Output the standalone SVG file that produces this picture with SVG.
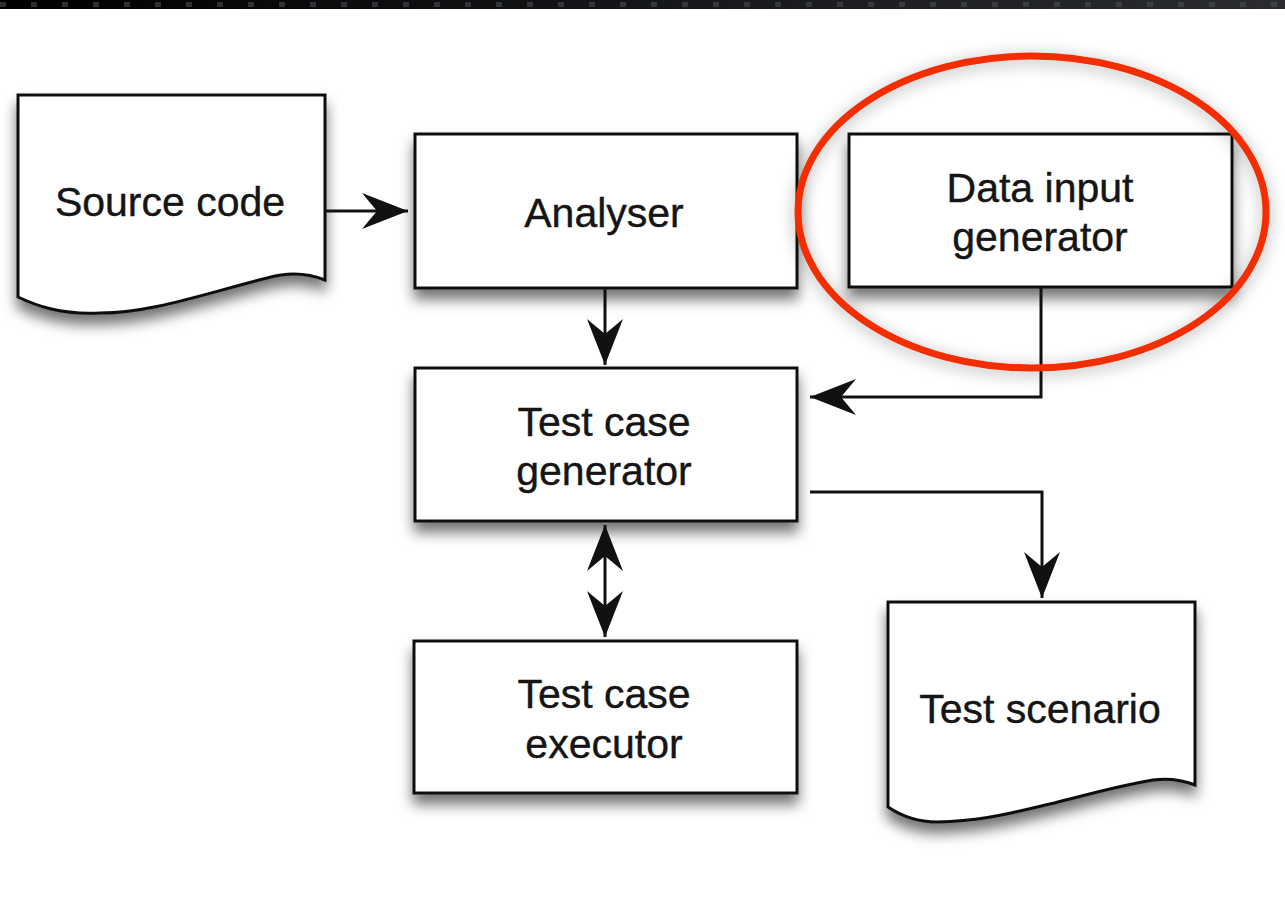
<svg xmlns="http://www.w3.org/2000/svg" width="1285" height="898" viewBox="0 0 1285 898">
  <style>
    .box { fill: #ffffff; stroke: #111111; stroke-width: 3; }
    .lbl { font-family: "Liberation Sans", Arial, Helvetica, sans-serif; font-size: 41px; fill: #151515; text-anchor: middle; stroke: #151515; stroke-width: 0.4; }
    .conn { fill: none; stroke: #111111; stroke-width: 3; }
    .ring { fill: none; stroke: #f22d05; stroke-width: 7; }
  </style>
  <defs>
    <filter id="shadow" x="-20%" y="-20%" width="140%" height="150%">
      <feDropShadow dx="0" dy="10" stdDeviation="7" flood-color="#000000" flood-opacity="0.55"/>
    </filter>
    <filter id="glow" x="-20%" y="-20%" width="140%" height="140%">
      <feDropShadow dx="0" dy="3" stdDeviation="8" flood-color="#000000" flood-opacity="0.35"/>
    </filter>
    <marker id="arrow" markerUnits="userSpaceOnUse" markerWidth="60" markerHeight="44" viewBox="-50 -22 52 44" refX="0" refY="0" orient="auto-start-reverse">
      <path d="M0,0 L-46,-18 L-31,0 L-46,18 Z" fill="#111111"/>
    </marker>
    <linearGradient id="band" x1="0" y1="0" x2="1" y2="0">
      <stop offset="0" stop-color="#000000"/>
      <stop offset="1" stop-color="#2a2c30"/>
    </linearGradient>
  </defs>

  <rect x="0" y="0" width="1285" height="898" fill="#ffffff"/>
  <rect x="0" y="0" width="1285" height="9" fill="url(#band)"/>
  <line x1="0" y1="4.5" x2="1285" y2="4.5" stroke="#4a4d55" stroke-width="5" stroke-dasharray="6 25" opacity="0.6"/>

  <g id="source-code">
    <path class="box" filter="url(#shadow)" d="M18,95 H325 V280 C305,272 285,273 267,278 C200,295 150,313 100,313 C60,315 35,305 18,297 Z"/>
    <text class="lbl" x="170" y="216">Source code</text>
  </g>

  <g id="analyser">
    <rect class="box" filter="url(#shadow)" x="415" y="134" width="382" height="154"/>
    <text class="lbl" x="604" y="227">Analyser</text>
  </g>

  <g id="data-input-generator">
    <rect class="box" filter="url(#shadow)" x="849" y="134" width="383" height="153"/>
    <text class="lbl" x="1040" y="202">Data input</text>
    <text class="lbl" x="1040" y="251">generator</text>
  </g>

  <g id="test-case-generator">
    <rect class="box" filter="url(#shadow)" x="415" y="368" width="382" height="153"/>
    <text class="lbl" x="604" y="436">Test case</text>
    <text class="lbl" x="604" y="485">generator</text>
  </g>

  <g id="test-case-executor">
    <rect class="box" filter="url(#shadow)" x="414" y="641" width="383" height="152"/>
    <text class="lbl" x="604" y="708">Test case</text>
    <text class="lbl" x="604" y="758">executor</text>
  </g>

  <g id="test-scenario">
    <path class="box" filter="url(#shadow)" d="M888,602 H1195 V785 C1180,779 1168,778 1153,780 C1110,787 1070,800 1037,807 C1000,816 975,821 937,822 C915,822 900,815 888,807 Z"/>
    <text class="lbl" x="1040" y="723">Test scenario</text>
  </g>

  <g id="connectors">
    <line class="conn" x1="326" y1="211" x2="408" y2="211" marker-end="url(#arrow)"/>
    <line class="conn" x1="605" y1="289" x2="605" y2="365" marker-end="url(#arrow)"/>
    <polyline class="conn" points="1041,288 1041,397 810,397" marker-end="url(#arrow)"/>
    <polyline class="conn" points="810,492 1042,492 1042,598" marker-end="url(#arrow)"/>
    <line class="conn" x1="605" y1="525" x2="605" y2="637" marker-start="url(#arrow)" marker-end="url(#arrow)"/>
  </g>

  <g id="highlight">
    <ellipse class="ring" filter="url(#glow)" cx="1032" cy="212" rx="234" ry="156"/>
  </g>
</svg>
